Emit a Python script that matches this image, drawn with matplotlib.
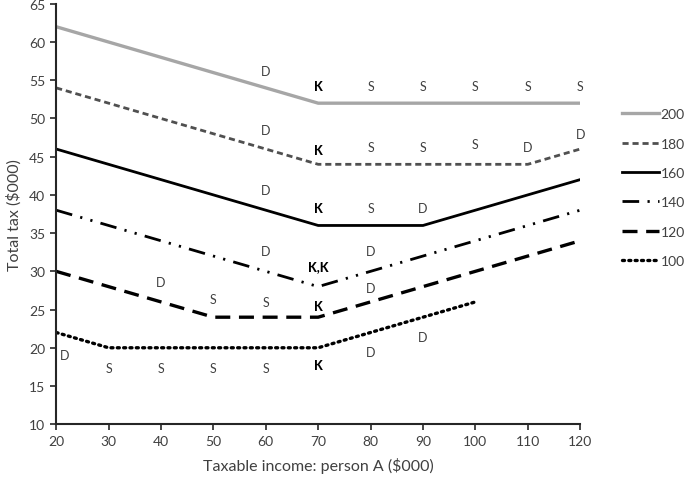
import matplotlib
matplotlib.use("Agg")
import matplotlib.pyplot as plt

plt.rcParams['font.family'] = ['Lato', 'DejaVu Sans']

# total tax curves, one per combined income (in $000)
x_200 = [20, 70, 120]
y_200 = [62, 52, 52]
x_180 = [20, 70, 110, 120]
y_180 = [54, 44, 44, 46]
x_160 = [20, 70, 90, 120]
y_160 = [46, 36, 36, 42]
x_140 = [20, 70, 120]
y_140 = [38, 28, 38]
x_120 = [20, 50, 70, 120]
y_120 = [30, 24, 24, 34]
x_100 = [20, 30, 70, 100]
y_100 = [22, 20, 20, 26]

# letters written next to the curves
label_x = [60, 70, 80, 90, 100, 110, 120,
           60, 70, 80, 90, 100, 110, 120,
           60, 70, 80, 90,
           60, 70, 80,
           40, 50, 60, 70, 80,
           21.7, 30, 40, 50, 60, 70, 80, 90]
label_y = [56.2, 54.2, 54.2, 54.2, 54.2, 54.2, 54.2,
           48.5, 45.9, 46.3, 46.3, 46.7, 46.3, 48.0,
           40.7, 38.3, 38.3, 38.3,
           32.6, 30.7, 32.6,
           28.6, 26.4, 26.0, 25.4, 27.8,
           19.0, 17.4, 17.4, 17.4, 17.4, 17.7, 19.5, 21.4]
label_txt = ['D', 'K', 'S', 'S', 'S', 'S', 'S',
             'D', 'K', 'S', 'S', 'S', 'D', 'D',
             'D', 'K', 'S', 'D',
             'D', 'K,K', 'D',
             'D', 'S', 'S', 'K', 'D',
             'D', 'S', 'S', 'S', 'S', 'K', 'D', 'D']

x_ticks = [20, 30, 40, 50, 60, 70, 80, 90, 100, 110, 120]
y_ticks = [10, 15, 20, 25, 30, 35, 40, 45, 50, 55, 60, 65]

fig = plt.figure(figsize=(6.85, 4.81), dpi=100)
ax = fig.add_axes([0.082, 0.116, 0.765, 0.874])

ax.plot(x_200, y_200, color='#a6a6a6', lw=2.4, label='200')
ax.plot(x_180, y_180, color='#505050', lw=2.0, dashes=(2.2, 1.4), label='180')
ax.plot(x_160, y_160, color='black', lw=2.0, label='160')
ax.plot(x_140, y_140, color='black', lw=2.0, dashes=(6, 3, 0.8, 3, 0.8, 3), label='140')
ax.plot(x_120, y_120, color='black', lw=2.4, dashes=(4.5, 2.6), label='120')
ax.plot(x_100, y_100, color='black', lw=2.4, dashes=(0.6, 1.3),
        dash_capstyle='round', label='100')

for lx, ly, t in zip(label_x, label_y, label_txt):
    if t.startswith('K'):
        ax.text(lx, ly, t, ha='center', va='center', fontsize=9,
                fontweight='black', color='black')
    else:
        ax.text(lx, ly, t, ha='center', va='center', fontsize=9,
                color='#404040')

ax.set_xlim(20, 120)
ax.set_ylim(10, 65)
ax.set_xticks(x_ticks)
ax.set_yticks(y_ticks)
ax.spines['top'].set_visible(False)
ax.spines['right'].set_visible(False)
for s in ['left', 'bottom']:
    ax.spines[s].set_linewidth(1.5)
    ax.spines[s].set_color('#262626')
ax.tick_params(direction='out', length=4, width=1.2, color='#262626',
               labelsize=10, labelcolor='#404040', pad=4)

ax.set_xlabel('Taxable income: person A ($000)', fontsize=11.5, color='#404040', labelpad=7)
ax.set_ylabel('Total tax ($000)', fontsize=11.5, color='#404040', labelpad=5)

ax.legend(loc='upper left', bbox_to_anchor=(1.07, 0.765), frameon=False,
          fontsize=10, labelcolor='#404040', handlelength=2.6, handletextpad=0.15,
          labelspacing=1.25, borderaxespad=0)

fig.savefig('out.png', dpi=100)
